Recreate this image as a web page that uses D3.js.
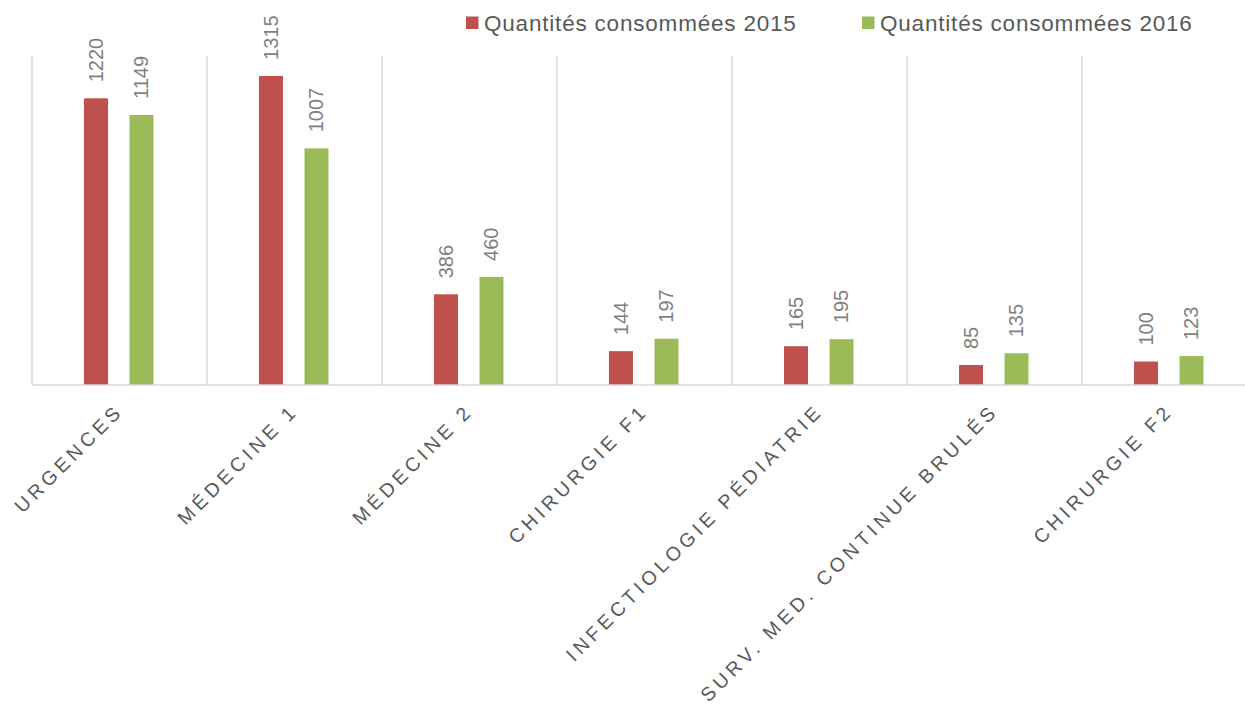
<!DOCTYPE html>
<html><head><meta charset="utf-8">
<script src="https://cdn.jsdelivr.net/npm/d3@7"></script>
<style>body{margin:0;background:#fff}svg{display:block;font-family:Arial,"Liberation Sans",sans-serif}</style>
</head><body><svg id="c" width="1245" height="706"></svg>
<script>
const categories = ["URGENCES","MÉDECINE 1","MÉDECINE 2","CHIRURGIE F1","INFECTIOLOGIE PÉDIATRIE","SURV. MED. CONTINUE BRULÉS","CHIRURGIE F2"];
const seriesNames = ["Quantités consommées 2015","Quantités consommées 2016"];
const values2015 = [1220,1315,386,144,165,85,100];
const values2016 = [1149,1007,460,197,195,135,123];
const colors = ["#C0504D","#9BBB59"];

const svg = d3.select("#c");
const x0 = d3.scaleBand().domain(categories).range([32, 1257]).padding(0);
const x1 = d3.scaleBand().domain([0,1]).range([52, 121.5]).paddingInner(0.4725).paddingOuter(0);
const y = d3.scaleLinear().domain([0,1400]).range([385,56]);
const series = [values2015, values2016];

// vertical separators
const seps = categories.map((c,i)=>i).concat([categories.length]);
svg.append("g").selectAll("line").data(seps).join("line")
  .attr("x1", i => i < categories.length ? x0(categories[i]) : x0.range()[1])
  .attr("x2", i => i < categories.length ? x0(categories[i]) : x0.range()[1])
  .attr("y1", y(1400)).attr("y2", y(0))
  .attr("stroke","#D9D9D9").attr("stroke-width",1.5);

// bars
series.forEach((vals, s) => {
  const g = svg.append("g");
  g.selectAll("rect").data(vals).join("rect")
    .attr("x", (d,i) => x0(categories[i]) + x1(s))
    .attr("y", d => y(d))
    .attr("width", x1.bandwidth())
    .attr("height", d => y(0) - y(d))
    .attr("fill", colors[s]);
  g.selectAll("text").data(vals).join("text")
    .attr("transform", (d,i) => `translate(${x0(categories[i]) + x1(s) + x1.bandwidth()/2},${y(d)-16}) rotate(-90)`)
    .attr("dominant-baseline","central")
    .attr("font-size", 20).attr("fill","#7F7F7F")
    .text(d => d);
});

// baseline axis
svg.append("line").attr("x1",32).attr("x2",1257).attr("y1",y(0)).attr("y2",y(0))
  .attr("stroke","#D9D9D9").attr("stroke-width",1.5);

// category labels
svg.append("g").selectAll("text").data(categories).join("text")
  .attr("transform", d => `translate(${x0(d)+x0.bandwidth()/2+5},${y(0)+27}) rotate(-45)`)
  .attr("text-anchor","end")
  .attr("font-size", 19.5).attr("letter-spacing", 4.2).attr("fill","#595959")
  .text(d => d);

// legend
const legX = [466, 862];
seriesNames.forEach((n, s) => {
  svg.append("rect").attr("x", legX[s]).attr("y", 16.5).attr("width", 12.5).attr("height", 12.5).attr("fill", colors[s]);
  svg.append("text").attr("x", legX[s] + 18).attr("y", 31).attr("font-size", 22.5).attr("letter-spacing", 0.8)
    .attr("fill","#595959").text(n);
});
</script></body></html>
